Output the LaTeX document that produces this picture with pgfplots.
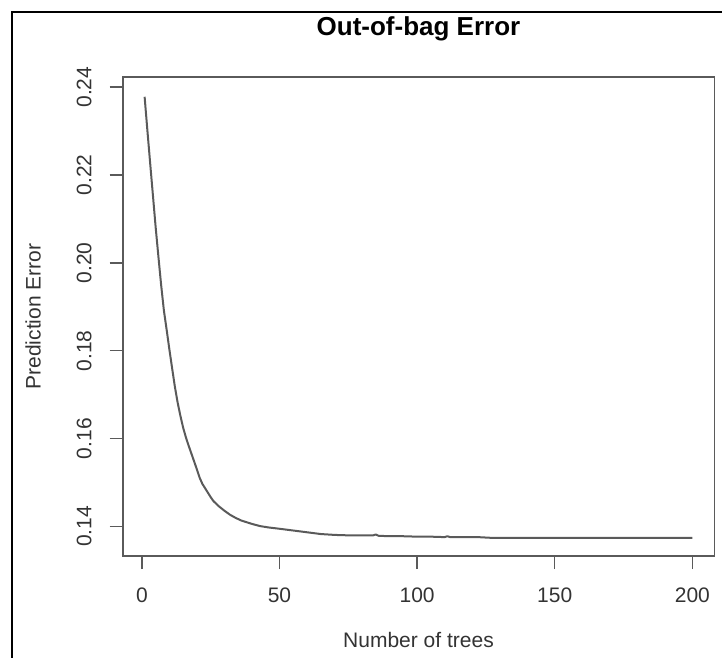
\documentclass[border=0pt]{standalone}
\usepackage{fontspec}
\setmainfont{Liberation Sans}
\usepackage{pgfplots}
\pgfplotsset{compat=1.18}

\definecolor{axgray}{HTML}{5A5A5A}
\definecolor{txtgray}{HTML}{333333}

\begin{document}
\begin{tikzpicture}[x=1pt,y=1pt]
  \path[use as bounding box] (0,0) rectangle (722,657);
  % screenshot frame
  \draw[line width=2.4pt, black] (12,-2) -- (12,645) -- (724,645);
  \begin{axis}[
      at={(122.7pt,101pt)}, anchor=south west,
      scale only axis,
      width=591.6pt, height=479pt,
      xmin=-6.96, xmax=207.96,
      ymin=0.1333, ymax=0.2423,
      xtick={0,50,100,150,200},
      ytick={0.14,0.16,0.18,0.20,0.22,0.24},
      xtick pos=bottom, ytick pos=left,
      tick align=outside,
      major tick length=13pt,
      tick style={axgray, line width=1.4pt},
      axis line style={axgray, line width=1.6pt},
      ticklabel style={font=\fontsize{21}{24}\selectfont, text=txtgray},
      /pgf/number format/assume math mode=true,
      yticklabel style={rotate=90, anchor=south, inner sep=0pt,
        /pgf/number format/.cd, fixed, fixed zerofill, precision=2},
      xticklabel style={anchor=north, inner sep=0pt},
      yticklabel shift=18pt,
      xticklabel shift=18.5pt,
      title={Out-of-bag Error},
      title style={font=\bfseries\fontsize{26}{30}\selectfont, text=black,
        at={(axis description cs:0.5,1.0981)}, anchor=center, yshift=-5pt},
      xlabel={Number of trees},
      xlabel style={font=\fontsize{21}{24}\selectfont, text=txtgray,
        at={(axis description cs:0.5,-0.1754)}, anchor=center},
      ylabel={Prediction Error},
      ylabel style={font=\fontsize{21}{24}\selectfont, text=txtgray,
        at={(axis description cs:-0.1516,0.5)}, anchor=center},
    ]
    \addplot[axgray, line width=2pt, line join=round] coordinates {
      (1,0.2378)(2,0.2302)(3,0.2228)(4,0.2155)(5,0.2082)(6,0.2015)
      (7,0.1950)(8,0.1892)(9,0.1848)(10,0.1803)(11,0.1760)(12,0.1718)
      (13,0.1682)(14,0.1652)(15,0.1625)(16,0.1603)(17,0.1584)(18,0.1566)
      (19,0.1548)(20,0.1530)(21,0.1511)(22,0.1497)(23,0.1487)(24,0.1477)
      (25,0.1467)(26,0.1458)(28,0.1446)(30,0.1436)(32,0.1427)(34,0.1420)
      (36,0.1414)(38,0.1410)(40,0.1406)(43,0.1401)(46,0.1398)(50,0.1395)
      (55,0.1391)(60,0.1387)(65,0.1383)(70,0.1381)(75,0.1380)(80,0.1380)
      (84,0.1380)(85,0.1382)(86,0.1379)(90,0.1378)(95,0.1378)(100,0.1377)
      (105,0.1377)(110,0.1376)(111,0.1378)(112,0.1376)(118,0.1376)
      (122,0.1376)(125,0.1375)(128,0.1374)(135,0.1374)(145,0.1374)
      (160,0.1374)(175,0.1374)(190,0.1374)(200,0.1374)
    };
  \end{axis}
\end{tikzpicture}
\end{document}
